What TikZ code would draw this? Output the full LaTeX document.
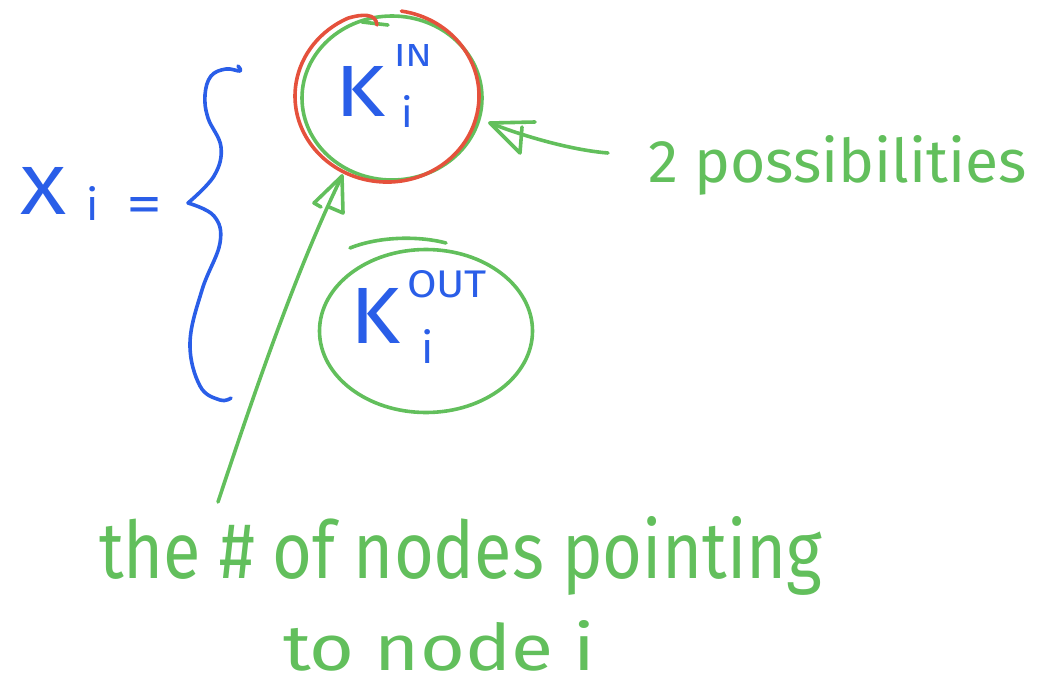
\documentclass[tikz,border=0pt]{standalone}
\usepackage{fontspec}
\usetikzlibrary{shapes.geometric}
\newfontfamily\hand{Fira Sans}
\definecolor{penGreen}{HTML}{62BF5C}
\definecolor{penBlue}{HTML}{2A5EE8}
\definecolor{penRed}{HTML}{E5513C}
% stretch a piece of text to a given width and height
\newcommand{\fitbox}[3]{\resizebox{#1}{#2}{\hand #3}}
\begin{document}
\begin{tikzpicture}[x=1pt,y=-1pt,line cap=round,line join=round,
  ink/.style={line width=3.6pt},
  note/.style={inner sep=0pt,outer sep=0pt,anchor=base west},
  loop/.style={ink,draw=penGreen,ellipse,inner sep=0pt}]
\useasboundingbox (0,0) rectangle (1044,685);

% left-hand side: X_i =
\node[note,text=penBlue] (X) at (20,214) {\fitbox{46pt}{47pt}{X}};
\node[note,text=penBlue] (Xi) at (86,220) {\resizebox{!}{34pt}{\hand i}};
\node[note,text=penBlue] (eq) at (126,222) {\fitbox{36pt}{25pt}{=}};

% curly brace
\draw[ink,penBlue] plot[smooth,tension=0.65] coordinates
  {(238,66) (240,71) (226,69) (211,76) (205,95) (208,118) (221,147) (214,176) (188,203)};
\draw[ink,penBlue] plot[smooth,tension=0.65] coordinates
  {(188,203) (214,216) (220,243) (202,290) (190,343) (200,386) (220,400) (231,398)};

% in-degree loop
\node[loop,minimum width=180pt,minimum height=164pt] (kin) at (392,98) {};
\draw[ink,penGreen] (362,22) -- (388,25);
\draw[ink,penRed] (401.4,11.1) arc[start angle=-81,end angle=245,x radius=92,y radius=86]
  .. controls (362,14) and (376,13) .. (377,25);
\node[note,text=penBlue] (Kin) at (335,117) {\fitbox{50pt}{50pt}{K}};
\node[note,text=penBlue] (IN) at (394,67) {\fitbox{38pt}{22pt}{IN}};
\node[note,text=penBlue] (iin) at (401,128) {\resizebox{!}{32pt}{\hand i}};

% out-degree loop
\node[loop,minimum width=213pt,minimum height=163pt] (kout) at (426,331) {};
\draw[ink,penGreen] (350,248) .. controls (380,236) and (420,236) .. (446,243);
\node[note,text=penBlue] (Kout) at (350,343) {\fitbox{50pt}{55pt}{K}};
\node[note,text=penBlue] (OUT) at (407,297) {\fitbox{80pt}{27pt}{OUT}};
\node[note,text=penBlue] (iout) at (421,363) {\resizebox{!}{34pt}{\hand i}};

% annotations
\node[note,text=penGreen] (poss) at (648,182) {\fitbox{379pt}{47pt}{2 possibilities}};
\node[note,text=penGreen] (nodes) at (99,578) {\fitbox{723pt}{62pt}{the \# of nodes pointing}};
\node[note,text=penGreen] (tonode) at (283,670) {\fitbox{312pt}{50pt}{to node i}};

% arrow from "2 possibilities" to the in-degree loop
\coordinate (a1) at (608,153);
\coordinate (tipA) at (490,123);
\draw[ink,penGreen] (a1) .. controls (570,150) and (520,135) .. (tipA);
\draw[ink,penGreen] (tipA) -- ++(45,-1);
\draw[ink,penGreen] (tipA) -- ++(30,30) -- ++(2,-26);

% arrow from the in-degree text up to the loop
\coordinate (b1) at (218,502);
\coordinate (tipB) at (342,176);
\draw[ink,penGreen] (b1) .. controls (260,375) and (300,262) .. (tipB);
\draw[ink,penGreen] (tipB) -- ++(-28,27) -- ++(7,4);
\draw[ink,penGreen] (tipB) -- ++(1,37) -- ++(-14,-6);
\end{tikzpicture}
\end{document}
